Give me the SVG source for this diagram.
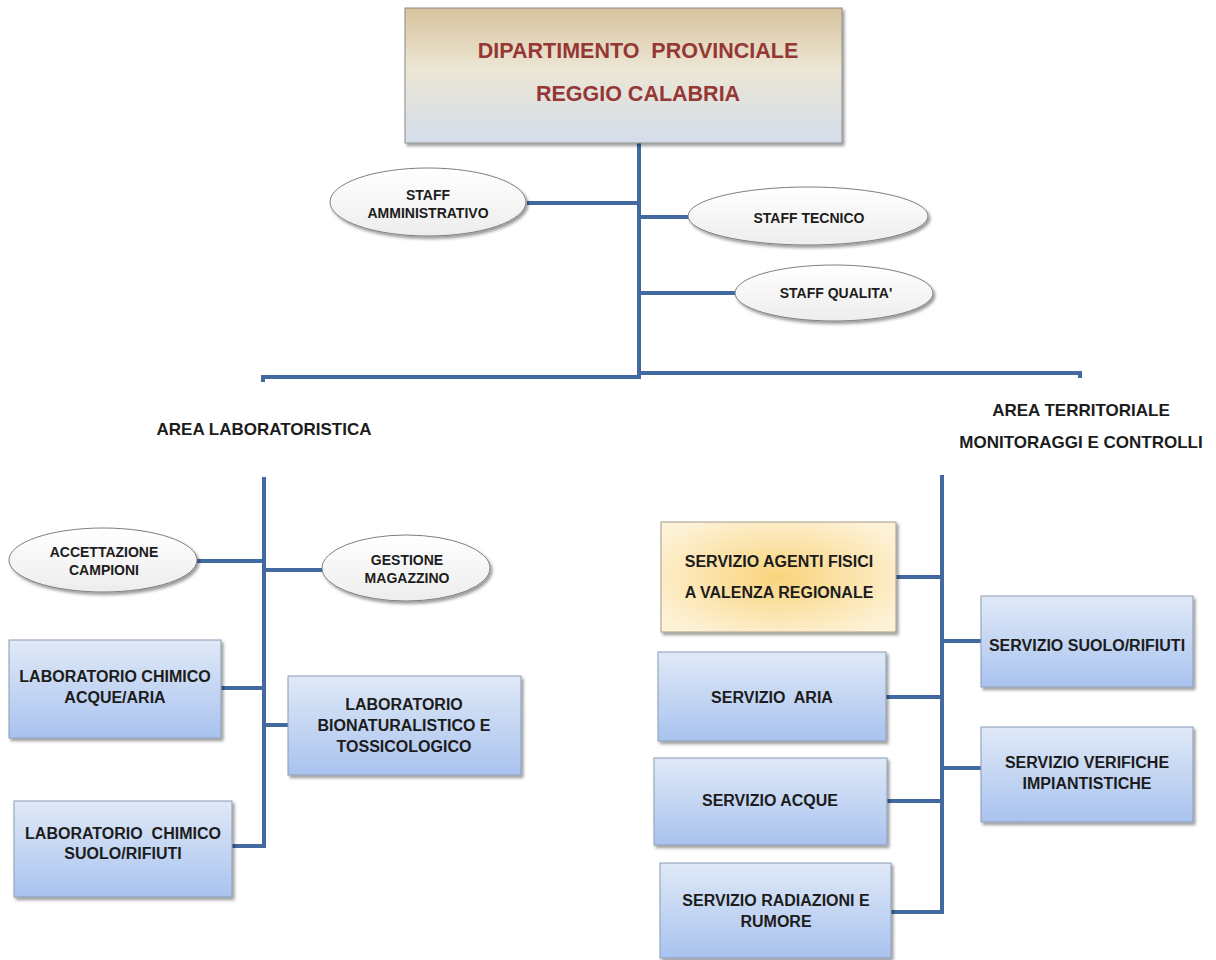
<svg xmlns="http://www.w3.org/2000/svg" width="1216" height="960" viewBox="0 0 1216 960">
<defs>
<linearGradient id="gTop" x1="0" y1="0" x2="0" y2="1">
<stop offset="0" stop-color="#d8c39d"/>
<stop offset="0.45" stop-color="#ece6d4"/>
<stop offset="1" stop-color="#d3ddeb"/>
</linearGradient>
<linearGradient id="gBlue" x1="0" y1="0" x2="0" y2="1">
<stop offset="0" stop-color="#e0e9f7"/>
<stop offset="1" stop-color="#a9c3ef"/>
</linearGradient>
<radialGradient id="gYellow" cx="0.5" cy="0.5" r="0.6">
<stop offset="0" stop-color="#f9d47c"/>
<stop offset="1" stop-color="#fdf1d6"/>
</radialGradient>
<linearGradient id="gEll" x1="0" y1="0" x2="0" y2="1">
<stop offset="0" stop-color="#ffffff"/>
<stop offset="1" stop-color="#ededed"/>
</linearGradient>
<filter id="sh" x="-10%" y="-10%" width="125%" height="130%">
<feDropShadow dx="2" dy="2.5" stdDeviation="1.5" flood-color="#000" flood-opacity="0.4"/>
</filter>
</defs>
<style>
.box{fill:url(#gBlue);stroke:#8a9bb3;stroke-width:1;filter:url(#sh)}
.yel{fill:url(#gYellow);stroke:#a69c86;stroke-width:1;filter:url(#sh)}
.ell{fill:url(#gEll);stroke:#7f7f7f;stroke-width:1;filter:url(#sh)}
.top{fill:url(#gTop);stroke:#8c8c8c;stroke-width:1;filter:url(#sh)}
.conn{fill:none;stroke:#4269a0;stroke-width:4}
text{font-family:"Liberation Sans",Arial,sans-serif;font-weight:bold;text-anchor:middle;fill:#1c1c1c}
.t16{font-size:16px}
.t14{font-size:14px}
.t17{font-size:17px}
.title{font-size:21.5px;fill:#953735;white-space:pre}
</style>

<g id="connectors">
<path class="conn" d="M639,143 V376"/>
<path class="conn" d="M263,382 V377 H641"/>
<path class="conn" d="M639,373 H1080 V378"/>
<path class="conn" d="M527,203 H639"/>
<path class="conn" d="M639,217 H689"/>
<path class="conn" d="M639,293 H736"/>
<path class="conn" d="M264,477 V848"/>
<path class="conn" d="M196,561 H264"/>
<path class="conn" d="M264,570 H323"/>
<path class="conn" d="M221,688 H264"/>
<path class="conn" d="M264,725 H289"/>
<path class="conn" d="M232,846 H266"/>
<path class="conn" d="M942,475 V913"/>
<path class="conn" d="M896,577 H942"/>
<path class="conn" d="M886,697 H942"/>
<path class="conn" d="M887,801 H942"/>
<path class="conn" d="M891,912 H944"/>
<path class="conn" d="M942,641 H982"/>
<path class="conn" d="M942,768 H982"/>
</g>

<g id="dipartimento">
<rect class="top" x="405" y="8" width="437" height="135"/>
<text class="title" x="638" y="58">DIPARTIMENTO  PROVINCIALE</text>
<text class="title" x="638" y="101">REGGIO CALABRIA</text>
</g>

<g id="staff-amministrativo">
<ellipse class="ell" cx="428" cy="202" rx="98" ry="34"/>
<text class="t14" x="428" y="200">STAFF</text>
<text class="t14" x="428" y="218">AMMINISTRATIVO</text>
</g>
<g id="staff-tecnico">
<ellipse class="ell" cx="808" cy="216" rx="120" ry="29"/>
<text class="t14" x="809" y="223">STAFF TECNICO</text>
</g>
<g id="staff-qualita">
<ellipse class="ell" cx="834" cy="293" rx="99" ry="28"/>
<text class="t14" x="836" y="298">STAFF QUALITA'</text>
</g>

<g id="area-laboratoristica">
<text class="t17" x="264" y="435">AREA LABORATORISTICA</text>
</g>
<g id="area-territoriale">
<text class="t17" x="1081" y="416">AREA TERRITORIALE</text>
<text class="t17" x="1081" y="448">MONITORAGGI E CONTROLLI</text>
</g>

<g id="accettazione-campioni">
<ellipse class="ell" cx="103" cy="560" rx="94" ry="32"/>
<text class="t14" x="104" y="557">ACCETTAZIONE</text>
<text class="t14" x="104" y="575">CAMPIONI</text>
</g>
<g id="gestione-magazzino">
<ellipse class="ell" cx="406" cy="568" rx="84" ry="33"/>
<text class="t14" x="407" y="565">GESTIONE</text>
<text class="t14" x="407" y="583">MAGAZZINO</text>
</g>
<g id="lab-chimico-acque-aria">
<rect class="box" x="9" y="640" width="212" height="98"/>
<text class="t16" x="115" y="682">LABORATORIO CHIMICO</text>
<text class="t16" x="115" y="703">ACQUE/ARIA</text>
</g>
<g id="lab-bionaturalistico">
<rect class="box" x="288" y="676" width="233" height="99"/>
<text class="t16" x="404" y="710">LABORATORIO</text>
<text class="t16" x="404" y="731">BIONATURALISTICO E</text>
<text class="t16" x="404" y="752">TOSSICOLOGICO</text>
</g>
<g id="lab-chimico-suolo-rifiuti">
<rect class="box" x="14" y="801" width="218" height="96"/>
<text class="t16" x="123" y="839" style="white-space:pre">LABORATORIO  CHIMICO</text>
<text class="t16" x="123" y="859">SUOLO/RIFIUTI</text>
</g>

<g id="servizio-agenti-fisici">
<rect class="yel" x="661" y="522" width="235" height="110"/>
<text class="t16" x="779" y="567">SERVIZIO AGENTI FISICI</text>
<text class="t16" x="779" y="598">A VALENZA REGIONALE</text>
</g>
<g id="servizio-aria">
<rect class="box" x="658" y="652" width="228" height="89"/>
<text class="t16" x="772" y="703" style="white-space:pre">SERVIZIO  ARIA</text>
</g>
<g id="servizio-acque">
<rect class="box" x="654" y="758" width="233" height="87"/>
<text class="t16" x="770" y="806">SERVIZIO ACQUE</text>
</g>
<g id="servizio-radiazioni-rumore">
<rect class="box" x="660" y="863" width="231" height="95"/>
<text class="t16" x="776" y="906">SERVIZIO RADIAZIONI E</text>
<text class="t16" x="776" y="927">RUMORE</text>
</g>
<g id="servizio-suolo-rifiuti">
<rect class="box" x="981" y="596" width="212" height="91"/>
<text class="t16" x="1087" y="651">SERVIZIO SUOLO/RIFIUTI</text>
</g>
<g id="servizio-verifiche-impiantistiche">
<rect class="box" x="981" y="727" width="212" height="95"/>
<text class="t16" x="1087" y="768">SERVIZIO VERIFICHE</text>
<text class="t16" x="1087" y="789">IMPIANTISTICHE</text>
</g>
</svg>
